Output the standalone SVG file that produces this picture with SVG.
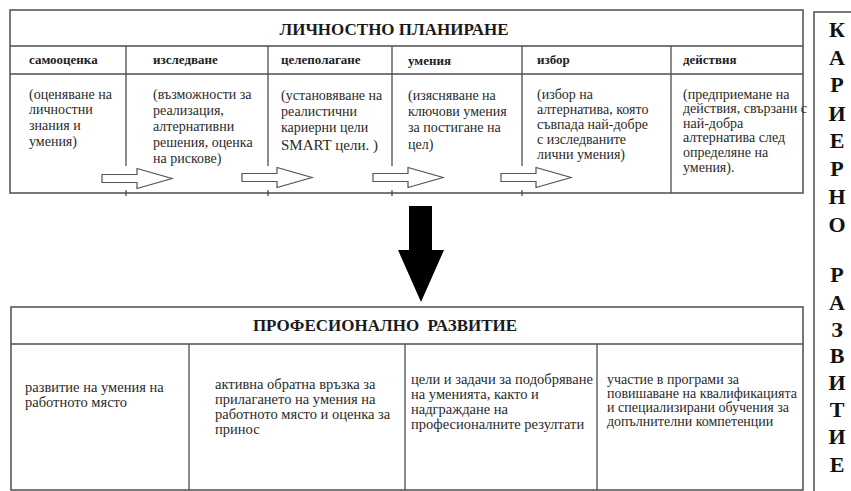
<svg xmlns="http://www.w3.org/2000/svg" width="851" height="491" viewBox="0 0 851 491">
<style>
.frame{fill:#fff;stroke:#4d4d4d;stroke-width:1.5}
.ln{stroke:#4d4d4d;stroke-width:1.3;fill:none}
.title{font-family:"Liberation Serif","Times New Roman",serif;font-weight:bold;font-size:17px;fill:#1a1a1a}
.hd{font-family:"Liberation Serif","Times New Roman",serif;font-weight:bold;font-size:13px;fill:#222}
.tx{font-family:"Liberation Serif","Times New Roman",serif;font-size:14px;fill:#2a2a2a}
.tb{font-family:"Liberation Serif","Times New Roman",serif;font-size:14.5px;fill:#2a2a2a}
.side{font-family:"Liberation Serif","Times New Roman",serif;font-weight:bold;font-size:22px;fill:#111;text-anchor:middle}
.blk{fill:#fff;stroke:#555;stroke-width:1.2}
</style>
<defs>
<path id="bArrow" d="M0,-4 H35 V-10 L70,0 L35,10 V4 H0 Z"/>
</defs>
<rect width="851" height="491" fill="#fff"/>

<g id="planning">
<rect class="frame" x="10" y="10" width="793" height="183"/>
<line class="ln" x1="10" y1="46" x2="803" y2="46"/>
<line class="ln" x1="10" y1="74" x2="803" y2="74"/>
<text class="title" x="394" y="35" text-anchor="middle">ЛИЧНОСТНО ПЛАНИРАНЕ</text>
<g class="ln">
<line x1="126" y1="46" x2="126" y2="166"/><line x1="126" y1="190" x2="126" y2="196"/>
<line x1="268" y1="46" x2="268" y2="166"/><line x1="268" y1="190" x2="268" y2="196"/>
<line x1="392" y1="46" x2="392" y2="166"/><line x1="392" y1="190" x2="392" y2="196"/>
<line x1="522" y1="46" x2="522" y2="166"/><line x1="522" y1="190" x2="522" y2="196"/>
<line x1="671" y1="46" x2="671" y2="193"/>
</g>
</g>

<g id="self-assessment">
<text class="hd" x="29" y="64">самооценка</text>
<text class="tx"><tspan x="29" y="99">(оценяване на</tspan><tspan x="29" y="114">личностни</tspan><tspan x="29" y="130">знания и</tspan><tspan x="29" y="146">умения)</tspan></text>
</g>
<g id="research">
<text class="hd" x="153" y="64">изследване</text>
<text class="tx"><tspan x="153" y="99">(възможности за</tspan><tspan x="153" y="115">реализация,</tspan><tspan x="153" y="131">алтернативни</tspan><tspan x="153" y="147">решения, оценка</tspan><tspan x="153" y="163">на рискове)</tspan></text>
</g>
<g id="goal-setting">
<text class="hd" x="281" y="64">целеполагане</text>
<text class="tx"><tspan x="281" y="100">(установяване на</tspan><tspan x="281" y="116">реалистични</tspan><tspan x="281" y="132">кариерни цели</tspan><tspan x="281" y="150" font-size="15">SMART цели. )</tspan></text>
</g>
<g id="skills">
<text class="hd" x="408" y="65">умения</text>
<text class="tx"><tspan x="408" y="100">(изясняване на</tspan><tspan x="408" y="116">ключови умения</tspan><tspan x="408" y="132">за постигане на</tspan><tspan x="408" y="149">цел)</tspan></text>
</g>
<g id="choice">
<text class="hd" x="537" y="64">избор</text>
<text class="tx"><tspan x="537" y="99">(избор на</tspan><tspan x="537" y="114">алтернатива, която</tspan><tspan x="537" y="129">съвпада най-добре</tspan><tspan x="537" y="144">с изследваните</tspan><tspan x="537" y="159">лични умения)</tspan></text>
</g>
<g id="actions">
<text class="hd" x="683" y="64">действия</text>
<text class="tx"><tspan x="683" y="99">(предприемане на</tspan><tspan x="683" y="113">действия, свързани с</tspan><tspan x="683" y="128">най-добра</tspan><tspan x="683" y="142">алтернатива след</tspan><tspan x="683" y="157">определяне на</tspan><tspan x="683" y="172">умения).</tspan></text>
</g>

<g id="connectors">
<use href="#bArrow" class="blk" transform="translate(102,178.5)"/>
<use href="#bArrow" class="blk" transform="translate(242,177.5)"/>
<use href="#bArrow" class="blk" transform="translate(373,177.5)"/>
<use href="#bArrow" class="blk" transform="translate(501,177.5)"/>
<polygon points="409,206 432,206 432,250 444,250 421,302 398,250 409,250" fill="#000"/>
</g>

<g id="development">
<rect class="frame" x="11" y="307" width="792" height="183"/>
<line class="ln" x1="11" y1="344" x2="803" y2="344"/>
<line class="ln" x1="189" y1="344" x2="189" y2="490"/>
<line class="ln" x1="405" y1="344" x2="405" y2="490"/>
<line class="ln" x1="597" y1="344" x2="597" y2="490"/>
<text class="title" x="385" y="331" text-anchor="middle" xml:space="preserve">ПРОФЕСИОНАЛНО  РАЗВИТИЕ</text>
</g>
<g id="dev-skills">
<text class="tb"><tspan x="25" y="392">развитие на умения на</tspan><tspan x="25" y="407">работното място</tspan></text>
</g>
<g id="dev-feedback">
<text class="tb"><tspan x="215" y="389">активна обратна връзка за</tspan><tspan x="215" y="404">прилагането на умения на</tspan><tspan x="215" y="419">работното място и оценка за</tspan><tspan x="215" y="434">принос</tspan></text>
</g>
<g id="dev-goals">
<text class="tb"><tspan x="411" y="384">цели и задачи за подобряване</tspan><tspan x="411" y="399">на уменията, както и</tspan><tspan x="411" y="414">надграждане на</tspan><tspan x="411" y="429">професионалните резултати</tspan></text>
</g>
<g id="dev-training">
<text class="tx"><tspan x="607" y="384">участие в програми за</tspan><tspan x="607" y="398">повишаване на квалификацията</tspan><tspan x="607" y="412">и специализирани обучения за</tspan><tspan x="607" y="426">допълнителни компетенции</tspan></text>
</g>

<g id="career">
<rect class="frame" x="814" y="12" width="60" height="500"/>
<text class="side"><tspan x="837" y="37">К</tspan><tspan x="837" y="65">А</tspan><tspan x="837" y="92">Р</tspan><tspan x="837" y="121">И</tspan><tspan x="837" y="148">Е</tspan><tspan x="837" y="176">Р</tspan><tspan x="837" y="204">Н</tspan><tspan x="837" y="232">О</tspan><tspan x="837" y="282">Р</tspan><tspan x="837" y="310">А</tspan><tspan x="837" y="337">З</tspan><tspan x="837" y="363">В</tspan><tspan x="837" y="390">И</tspan><tspan x="837" y="417">Т</tspan><tspan x="837" y="444">И</tspan><tspan x="837" y="472">Е</tspan></text>
</g>
</svg>
